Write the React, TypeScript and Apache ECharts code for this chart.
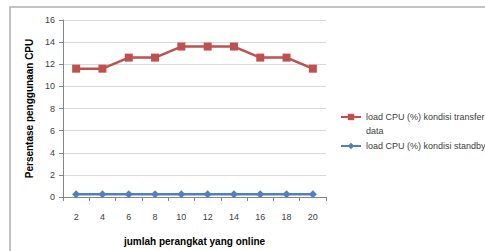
import React, { useEffect, useRef } from "react";
import * as echarts from "echarts";

const categories = ["2", "4", "6", "8", "10", "12", "14", "16", "18", "20"];
const transferValues = [11.6, 11.6, 12.6, 12.6, 13.6, 13.6, 13.6, 12.6, 12.6, 11.6];
const standbyValues = [0.25, 0.25, 0.25, 0.25, 0.25, 0.25, 0.25, 0.25, 0.25, 0.25];
const seriesNames = ["load CPU (%) kondisi transfer\ndata", "load CPU (%) kondisi standby"];
const xTitle = "jumlah perangkat yang online";
const yTitle = "Persentase penggunaan CPU";

export default function App() {
  const ref = useRef<HTMLDivElement>(null);
  useEffect(() => {
    if (!ref.current) return;
    const chart = echarts.init(ref.current, undefined, { renderer: "svg" });
    const font = "Liberation Sans";
    const legendBase = {
      orient: "vertical",
      left: 340,
      padding: 0,
      itemWidth: 20,
      itemHeight: 8,
    };
    chart.setOption({
      animation: false,
      backgroundColor: "#ffffff",
      textStyle: { fontFamily: font },
      graphic: [
        {
          type: "rect",
          shape: { x: 10, y: 7, width: 490, height: 260 },
          style: { fill: "none", stroke: "#b0b0b0", lineWidth: 1.5 },
          silent: true,
        },
      ],
      grid: { left: 63, right: 159, top: 20, bottom: 52 },
      legend: [
        {
          ...legendBase,
          top: 96,
          formatter: (name: string) => " \n" + name,
          textStyle: {
            fontSize: 9,
            color: "#404040",
            fontFamily: font,
            lineHeight: 14,
          },
          data: [seriesNames[0]],
        },
        {
          ...legendBase,
          top: 139,
          textStyle: { fontSize: 9, color: "#404040", fontFamily: font, lineHeight: 14 },
          data: [seriesNames[1]],
        },
      ],
      xAxis: {
        type: "category",
        data: categories,
        boundaryGap: true,
        name: xTitle,
        nameLocation: "middle",
        nameGap: 39,
        nameTextStyle: { fontSize: 10, color: "#000", fontWeight: "bold", fontFamily: font },
        axisLine: { lineStyle: { color: "#868686", width: 1 } },
        axisTick: { show: true, alignWithLabel: false, length: 4, lineStyle: { color: "#868686" } },
        axisLabel: { fontSize: 9, color: "#404040", margin: 15 },
        splitLine: { show: false },
      },
      yAxis: {
        type: "value",
        min: 0,
        max: 16,
        interval: 2,
        name: yTitle,
        nameLocation: "middle",
        nameGap: 26,
        nameTextStyle: { fontSize: 10, color: "#000", fontWeight: "bold", fontFamily: font },
        axisLine: { show: true, lineStyle: { color: "#868686", width: 1 } },
        axisTick: { show: true, length: 4, lineStyle: { color: "#868686" } },
        axisLabel: { fontSize: 9, color: "#404040", margin: 8 },
        splitLine: { show: true, lineStyle: { color: "#d9d9d9", width: 1 } },
      },
      series: [
        {
          name: seriesNames[0],
          type: "line",
          data: transferValues,
          symbol: "rect",
          symbolSize: 8,
          color: "#c0504d",
          lineStyle: { width: 2.5, color: "#c0504d" },
          itemStyle: { color: "#c0504d" },
        },
        {
          name: seriesNames[1],
          type: "line",
          data: standbyValues,
          symbol: "diamond",
          symbolSize: 8,
          color: "#4f81bd",
          lineStyle: { width: 2.5, color: "#4f81bd" },
          itemStyle: { color: "#4f81bd" },
        },
      ],
    });
    return () => chart.dispose();
  }, []);
  return (
    <div
      ref={ref}
      style={{ position: "absolute", left: 0, top: 0, width: 485, height: 251 }}
    />
  );
}
